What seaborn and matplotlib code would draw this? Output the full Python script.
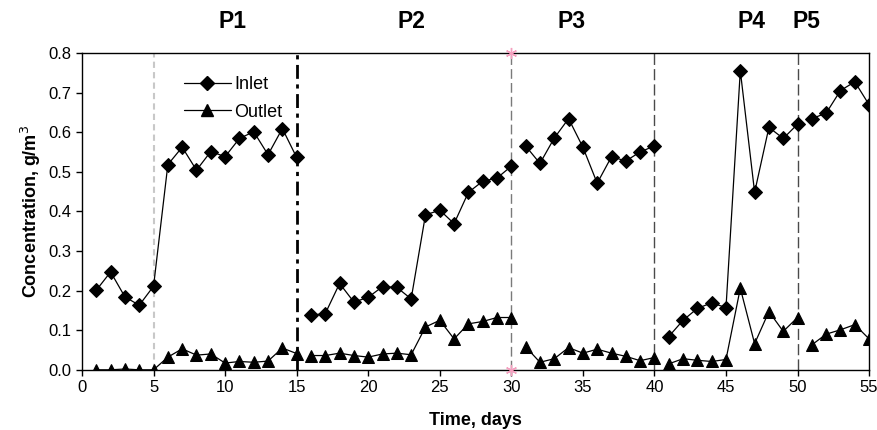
import numpy as np
import pandas as pd
import matplotlib
matplotlib.use("Agg")
import matplotlib.pyplot as plt
from matplotlib.lines import Line2D
import seaborn as sns

days = list(range(1, 56))
inlet = [0.201, 0.247, 0.184, 0.163, 0.211, 0.518, 0.562, 0.504, 0.551, 0.538,
         0.584, 0.601, 0.543, 0.609, 0.536,
         0.138, 0.142, 0.218, 0.171, 0.183, 0.210, 0.208, 0.179, 0.391, 0.403,
         0.369, 0.448, 0.476, 0.484, 0.514,
         0.565, 0.521, 0.585, 0.634, 0.562, 0.471, 0.538, 0.527, 0.550, 0.565,
         0.084, 0.125, 0.155, 0.169, 0.157, 0.755, 0.448, 0.612, 0.584, 0.620,
         0.634, 0.648, 0.705, 0.727, 0.669]
outlet = [0.0, 0.0, 0.002, 0.0, 0.0, 0.032, 0.053, 0.037, 0.040, 0.017,
          0.021, 0.019, 0.022, 0.055, 0.041,
          0.036, 0.036, 0.042, 0.036, 0.032, 0.040, 0.042, 0.038, 0.108, 0.125,
          0.078, 0.116, 0.122, 0.132, 0.132,
          0.058, 0.019, 0.028, 0.056, 0.042, 0.052, 0.042, 0.034, 0.023, 0.031,
          0.015, 0.028, 0.024, 0.021, 0.026, 0.206, 0.066, 0.147, 0.097, 0.132,
          0.063, 0.090, 0.101, 0.114, 0.078]

# Phasengrenzen und Beschriftungen
phase_bounds = [5, 15, 30, 40, 50]      # senkrechte Linien
segment_breaks = [15, 30, 40, 50]       # hier wird die Kurve unterbrochen
phase_names = ["P1", "P2", "P3", "P4", "P5"]
phase_label_days = [10.5, 23.0, 34.2, 46.8, 50.6]

df = pd.DataFrame({"day": days, "Inlet": inlet, "Outlet": outlet})
df["segment"] = np.searchsorted(segment_breaks, df["day"], side="left") + 1
long_df = df.melt(id_vars=["day", "segment"], var_name="series", value_name="conc")

sns.set_style("ticks")
plt.rcParams["font.family"] = ["Liberation Sans", "DejaVu Sans"]
for key in ["text.color", "axes.labelcolor", "xtick.color", "ytick.color"]:
    plt.rcParams[key] = "black"

fig, ax = plt.subplots(figsize=(8.77, 4.30), dpi=100)
fig.subplots_adjust(left=0.0935, right=0.991, top=0.877, bottom=0.14)

styles = {"Inlet": dict(marker="D", markersize=7), "Outlet": dict(marker="^", markersize=9)}
for name, st in styles.items():
    sns.lineplot(data=long_df[long_df["series"] == name], x="day", y="conc",
                 units="segment", estimator=None, color="black", linewidth=0.9,
                 marker=st["marker"], markersize=st["markersize"],
                 markeredgecolor="black", markerfacecolor="black",
                 legend=False, ax=ax, zorder=3)

# Senkrechte Linien für die Phasen
line_styles = [
    dict(color="#c8c8c8", linestyle=(0, (3, 2)), linewidth=1.5),
    dict(color="black", linestyle=(0, (5, 2, 1.5, 2)), linewidth=2.0),
    dict(color="#7a7a7a", linestyle=(0, (7, 3)), linewidth=1.0),
    dict(color="#4a4a4a", linestyle=(0, (8, 3)), linewidth=1.0),
    dict(color="#4a4a4a", linestyle=(0, (8, 3)), linewidth=1.0),
]
for b, ls in zip(phase_bounds, line_styles):
    ax.axvline(b, zorder=2, **ls)
# rosa Sternchen an der Grenze bei Tag 30
ax.plot([phase_bounds[2]] * 2, [0.0, 0.8], linestyle="none", marker=(6, 2, 0),
        markersize=8, color="#f4a0bf", markeredgewidth=1.0, clip_on=False, zorder=4)

for name, d in zip(phase_names, phase_label_days):
    ax.text(d, 1.1, name, transform=ax.get_xaxis_transform(), ha="center",
            va="center", fontsize=16.5, fontweight="bold")

ax.set_xlim(0, 55)
ax.set_ylim(0, 0.8)
ax.set_xticks(np.arange(0, 56, 5))
ax.set_yticks(np.arange(0, 0.81, 0.1))
ax.set_yticklabels([f"{v:.1f}" for v in np.arange(0, 0.81, 0.1)])
ax.tick_params(direction="out", length=4, width=1, labelsize=12, colors="black")
for sp in ax.spines.values():
    sp.set_visible(True)
    sp.set_color("black")
    sp.set_linewidth(1.0)

ax.set_xlabel("Time, days", fontsize=13, fontweight="bold", labelpad=12)
ax.set_ylabel("Concentration, g/m$^3$", fontsize=13, fontweight="bold", labelpad=4)

handles = [Line2D([], [], color="black", linewidth=0.9, marker="D", markersize=7),
           Line2D([], [], color="black", linewidth=0.9, marker="^", markersize=9)]
ax.legend(handles, ["Inlet", "Outlet"], loc="upper left", bbox_to_anchor=(0.12, 0.95),
          frameon=False, fontsize=13, handlelength=2.6, handletextpad=0.2,
          labelspacing=0.6, borderaxespad=0)

fig.savefig("out.png", dpi=100)
